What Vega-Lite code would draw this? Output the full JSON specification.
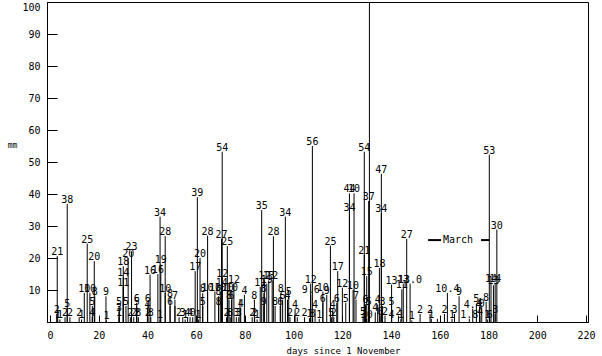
{
  "$schema": "https://vega.github.io/schema/vega-lite/v6.json",
  "width": 541,
  "height": 320,
  "autosize": "none",
  "padding": {"left": 47, "top": 2, "right": 14, "bottom": 34},
  "background": "white",
  "config": {
    "view": {"stroke": "black", "strokeWidth": 1},
    "font": "DejaVu Sans Mono",
    "axis": {"labelFont": "DejaVu Sans Mono", "titleFont": "DejaVu Sans Mono", "labelColor": "black", "titleColor": "black", "domainColor": "black", "tickColor": "black", "grid": false, "labelFontSize": 10, "titleFontWeight": "normal", "titleFontSize": 9, "labelOverlap": false}
  },
  "datasets": {
    "rain": [
      {"d": 3.0, "v": 20.6, "t": "21"}, {"d": 2.8, "v": 2.5, "t": "2"}, {"d": 3.2, "v": 1, "t": "1"}, {"d": 4.1, "v": 0.8, "t": "1"},
      {"d": 6.2, "v": 1.5, "t": "2"}, {"d": 8.2, "v": 1.5, "t": "2"}, {"d": 7.1, "v": 36.9, "t": "38"}, {"d": 7.1, "v": 4.5, "t": "5"},
      {"d": 12.0, "v": 1.5, "t": "2"}, {"d": 13.0, "v": 0.8, "t": "1"}, {"d": 14.1, "v": 9.1, "t": "10"}, {"d": 15.3, "v": 24.5, "t": "25"},
      {"d": 16.4, "v": 9.1, "t": "10"}, {"d": 17.4, "v": 5, "t": "5"}, {"d": 17.4, "v": 1.5, "t": "4"}, {"d": 18.2, "v": 19, "t": "20"},
      {"d": 18.4, "v": 8, "t": "8"}, {"d": 23.0, "v": 8, "t": "9"}, {"d": 23.2, "v": 0.5, "t": "1"},
      {"d": 28.4, "v": 5, "t": "5"}, {"d": 28.4, "v": 3, "t": "3"}, {"d": 28.4, "v": 1.5, "t": "1"},
      {"d": 30.1, "v": 17.4, "t": "18"}, {"d": 30.1, "v": 14, "t": "14"}, {"d": 30.1, "v": 11, "t": "11"}, {"d": 31.2, "v": 5, "t": "5"},
      {"d": 32.1, "v": 20, "t": "20"}, {"d": 33.5, "v": 22.1, "t": "23"}, {"d": 33.0, "v": 1.5, "t": "2"}, {"d": 34.4, "v": 1.5, "t": "2"},
      {"d": 35.6, "v": 6, "t": "6"}, {"d": 35.6, "v": 5, "t": "5"}, {"d": 35.6, "v": 1.5, "t": "2"}, {"d": 36.3, "v": 1.5, "t": "8"},
      {"d": 40.2, "v": 6, "t": "6"}, {"d": 40.0, "v": 4, "t": "4"}, {"d": 40.2, "v": 1.5, "t": "2"}, {"d": 41.1, "v": 14.8, "t": "16"},
      {"d": 41.4, "v": 1.5, "t": "8"}, {"d": 45.2, "v": 32.9, "t": "34"}, {"d": 44.3, "v": 15, "t": "16"}, {"d": 45.5, "v": 18, "t": "19"},
      {"d": 47.3, "v": 26.8, "t": "28"}, {"d": 47.3, "v": 9, "t": "10"}, {"d": 45.2, "v": 0.8, "t": "1"},
      {"d": 49.3, "v": 7.5, "t": "8"}, {"d": 49.3, "v": 5, "t": "6"}, {"d": 51.3, "v": 7, "t": "7"}, {"d": 51.3, "v": 5, "t": ""},
      {"d": 53.0, "v": 1.5, "t": "2"}, {"d": 54.5, "v": 1.5, "t": "3"}, {"d": 55.5, "v": 0.8, "t": "1"}, {"d": 56.5, "v": 1.5, "t": "4"},
      {"d": 57.5, "v": 1.5, "t": "4"}, {"d": 58.6, "v": 1.5, "t": "0"}, {"d": 59.6, "v": 15.9, "t": "17"}, {"d": 60.5, "v": 39, "t": "39"},
      {"d": 61.6, "v": 20, "t": "20"}, {"d": 62.7, "v": 9, "t": "8"}, {"d": 62.7, "v": 5, "t": "5"}, {"d": 61.0, "v": 0.8, "t": "1"},
      {"d": 64.7, "v": 27, "t": "28"}, {"d": 64.7, "v": 9.5, "t": "10"}, {"d": 67.7, "v": 9.5, "t": "10"}, {"d": 69.2, "v": 8, "t": "8"},
      {"d": 69.2, "v": 5, "t": "8"}, {"d": 70.7, "v": 53.2, "t": "54"}, {"d": 70.4, "v": 26, "t": "27"}, {"d": 70.7, "v": 13.9, "t": "12"},
      {"d": 70.5, "v": 11, "t": "14"}, {"d": 69.9, "v": 9.5, "t": "10"}, {"d": 72.8, "v": 23.7, "t": "25"}, {"d": 73.0, "v": 9.5, "t": "10"},
      {"d": 74.7, "v": 9.5, "t": "10"}, {"d": 75.5, "v": 12, "t": "12"}, {"d": 73.5, "v": 7, "t": "8"}, {"d": 74.5, "v": 7, "t": "6"},
      {"d": 78.0, "v": 7.2, "t": ""}, {"d": 79.8, "v": 8.5, "t": "4"}, {"d": 78.3, "v": 4.4, "t": "4"}, {"d": 72.5, "v": 1.5, "t": "2"},
      {"d": 74.0, "v": 1.5, "t": "8"}, {"d": 76.5, "v": 1.5, "t": "3"}, {"d": 77.5, "v": 1.5, "t": "3"}, {"d": 83.9, "v": 7, "t": "8"},
      {"d": 83.0, "v": 1.5, "t": "2"}, {"d": 84.0, "v": 1.5, "t": "2"}, {"d": 85.0, "v": 0.8, "t": "1"}, {"d": 86.9, "v": 35, "t": "35"},
      {"d": 86.3, "v": 11, "t": "11"}, {"d": 88.0, "v": 13, "t": "12"}, {"d": 89.8, "v": 13, "t": "13"}, {"d": 91.2, "v": 13, "t": "12"},
      {"d": 89.0, "v": 12, "t": "19"}, {"d": 87.8, "v": 9, "t": "8"}, {"d": 87.8, "v": 5, "t": "9"}, {"d": 91.7, "v": 26.8, "t": "28"},
      {"d": 92.4, "v": 5, "t": "8"}, {"d": 94.7, "v": 9, "t": "8"}, {"d": 95.5, "v": 7, "t": "5"}, {"d": 94.5, "v": 5, "t": "6"},
      {"d": 96.6, "v": 32.9, "t": "34"}, {"d": 98.0, "v": 8, "t": "5"}, {"d": 97.5, "v": 7, "t": "4"}, {"d": 100.6, "v": 4, "t": "4"},
      {"d": 98.5, "v": 1.5, "t": "2"}, {"d": 101.5, "v": 1.5, "t": "2"}, {"d": 104.5, "v": 1.5, "t": "2"}, {"d": 107.0, "v": 8.6, "t": "9.6"},
      {"d": 107.0, "v": 12, "t": "12"}, {"d": 107.7, "v": 55, "t": "56"}, {"d": 108.8, "v": 4, "t": "4"}, {"d": 106.5, "v": 1.2, "t": "1"},
      {"d": 107.8, "v": 1.2, "t": "8"}, {"d": 112.0, "v": 9.5, "t": "10"}, {"d": 113.6, "v": 8.5, "t": "9"}, {"d": 112.0, "v": 6, "t": "6"},
      {"d": 116.1, "v": 4, "t": "4"}, {"d": 115.1, "v": 23.9, "t": "25"}, {"d": 115.5, "v": 1.5, "t": "5"}, {"d": 116.5, "v": 1.5, "t": "2"},
      {"d": 110.5, "v": 1.0, "t": "1"}, {"d": 118.1, "v": 15.9, "t": "17"}, {"d": 120.0, "v": 10.7, "t": "12"}, {"d": 117.7, "v": 6, "t": "6"},
      {"d": 121.4, "v": 6, "t": "5"}, {"d": 122.9, "v": 40.2, "t": "44"}, {"d": 124.8, "v": 40.2, "t": "10"}, {"d": 122.9, "v": 34.5, "t": "34"},
      {"d": 124.4, "v": 10, "t": "10"}, {"d": 125.6, "v": 7, "t": "7"}, {"d": 129.0, "v": 53.2, "t": "54"}, {"d": 131.1, "v": 130, "t": ""},
      {"d": 130.8, "v": 37.8, "t": "37"}, {"d": 129.0, "v": 21, "t": "21"}, {"d": 130.0, "v": 14.3, "t": "15"}, {"d": 129.5, "v": 5.5, "t": "6"},
      {"d": 130.8, "v": 5, "t": "5"}, {"d": 128.5, "v": 2, "t": "5"}, {"d": 130.0, "v": 1.0, "t": "30"}, {"d": 136.0, "v": 46.3, "t": "47"},
      {"d": 136.0, "v": 34, "t": "34"}, {"d": 135.2, "v": 16.9, "t": "18"}, {"d": 134.5, "v": 5.5, "t": "4"}, {"d": 136.5, "v": 5, "t": "3"},
      {"d": 133.5, "v": 3, "t": "4"}, {"d": 135.5, "v": 2, "t": "0"}, {"d": 137.5, "v": 2, "t": "2"}, {"d": 140.2, "v": 11.7, "t": "13"},
      {"d": 140.2, "v": 5, "t": "5"}, {"d": 140.2, "v": 1.0, "t": "4"}, {"d": 144.4, "v": 10.2, "t": "11"}, {"d": 146.4, "v": 26, "t": "27"},
      {"d": 147.8, "v": 12, "t": "13.0"}, {"d": 145.0, "v": 12, "t": "13"}, {"d": 143.0, "v": 2, "t": "2"}, {"d": 144.0, "v": 1.0, "t": "1"},
      {"d": 148.5, "v": 0.5, "t": "1"}, {"d": 151.9, "v": 2.5, "t": "2"}, {"d": 156.0, "v": 2.5, "t": "2"}, {"d": 156.5, "v": 1.0, "t": "1"},
      {"d": 159.0, "v": 1.0, "t": ""}, {"d": 161.9, "v": 2.5, "t": "2"}, {"d": 163.1, "v": 9.1, "t": "10.4"}, {"d": 166.0, "v": 2.5, "t": "3"},
      {"d": 165.0, "v": 1.0, "t": "1"}, {"d": 167.9, "v": 8, "t": "9"}, {"d": 172.1, "v": 1.0, "t": "1.8"}, {"d": 173.5, "v": 4.2, "t": "4.4"},
      {"d": 175.0, "v": 5.8, "t": "5"}, {"d": 176.3, "v": 4.8, "t": "4"}, {"d": 177.2, "v": 4.5, "t": "0"}, {"d": 179.0, "v": 6.3, "t": "8"},
      {"d": 176.5, "v": 2, "t": "4"}, {"d": 180.3, "v": 52.3, "t": "53"}, {"d": 183.4, "v": 28.9, "t": "30"}, {"d": 181.0, "v": 12.2, "t": "14"},
      {"d": 182.7, "v": 12.2, "t": "14"}, {"d": 182.0, "v": 11.5, "t": "13"}, {"d": 182.7, "v": 2.5, "t": "3"}, {"d": 179.5, "v": 0.8, "t": "1"},
      {"d": 180.5, "v": 0.8, "t": "6"}
    ],
    "legendLines": [
      {"x1": 155.2, "x2": 160.5, "y": 25.6},
      {"x1": 176.9, "x2": 180.2, "y": 25.6}
    ],
    "legendText": [
      {"x": 161.3, "y": 25.6, "label": "March"}
    ]
  },
  "layer": [
    {
      "data": {"name": "rain"},
      "mark": {"type": "rule", "color": "black", "strokeWidth": 1, "clip": true},
      "encoding": {
        "x": {"field": "d", "type": "quantitative", "scale": {"domain": [-1.2, 220.8], "nice": false, "zero": false},
          "axis": {"values": [0, 20, 40, 60, 80, 100, 120, 140, 160, 180, 200, 220], "tickCount": 30, "tickSize": -7, "labelPadding": 15, "labelFlush": false, "labelOverlap": false, "labelBound": false, "title": "days since 1 November", "titleX": 296, "titleY": 28, "titleBaseline": "middle", "titleAlign": "center", "titleFontSize": 9}},
        "y": {"field": "v", "type": "quantitative", "scale": {"domain": [0, 100], "nice": false},
          "axis": {"values": [10, 20, 30, 40, 50, 60, 70, 80, 90, 100], "tickCount": 30, "tickSize": -10, "labelPadding": 17, "labelFlush": true, "labelFlushOffset": 0, "labelOverlap": false, "labelBound": false, "labelSeparation": 0, "title": "mm", "titleAngle": 0, "titleX": -35, "titleY": 143, "titleAlign": "center", "titleBaseline": "middle", "titleFontSize": 8}},
        "y2": {"datum": 0}
      }
    },
    {
      "data": {"name": "rain"},
      "mark": {"type": "text", "color": "black", "fontSize": 10, "font": "DejaVu Sans Mono", "baseline": "alphabetic", "align": "center", "dy": -1, "clip": true},
      "encoding": {
        "x": {"field": "d", "type": "quantitative"},
        "y": {"field": "v", "type": "quantitative"},
        "text": {"field": "t"}
      }
    },
    {
      "data": {"name": "legendLines"},
      "mark": {"type": "rule", "color": "black", "strokeWidth": 2},
      "encoding": {
        "x": {"field": "x1", "type": "quantitative"},
        "x2": {"field": "x2"},
        "y": {"field": "y", "type": "quantitative"}
      }
    },
    {
      "data": {"name": "legendText"},
      "mark": {"type": "text", "color": "black", "fontSize": 10, "font": "DejaVu Sans Mono", "align": "left", "baseline": "middle"},
      "encoding": {
        "x": {"field": "x", "type": "quantitative"},
        "y": {"field": "y", "type": "quantitative"},
        "text": {"field": "label"}
      }
    }
  ]
}
